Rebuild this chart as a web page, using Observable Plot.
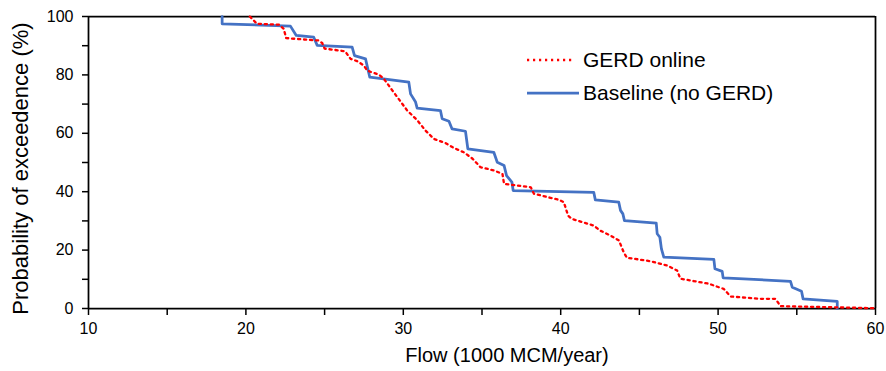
<!DOCTYPE html>
<html><head><meta charset="utf-8">
<script src="https://cdn.jsdelivr.net/npm/d3@7"></script>
<script src="https://cdn.jsdelivr.net/npm/@observablehq/plot@0.6"></script>
<style>
body{margin:0;background:#fff;font-family:"Liberation Sans",Arial,sans-serif;}
#wrap{position:relative;width:886px;height:371px;}
.lg{position:absolute;left:527px;display:flex;align-items:center;height:26px;font-size:21px;color:#000;white-space:nowrap;}
.lg svg{margin-right:4px;}
</style></head><body><div id="wrap"></div>
<script>
const seriesNames = ["GERD online", "Baseline (no GERD)"];
const seriesColors = ["#FF0000", "#4472C4"];
const xTitle = "Flow (1000 MCM/year)";
const yTitle = "Probability of exceedence (%)";
const xTicks = [10, 15, 20, 25, 30, 35, 40, 45, 50, 55, 60];
const yTicks = [0, 10, 20, 30, 40, 50, 60, 70, 80, 90, 100];

const baseFlow = [18.49,18.49,22.83,23.2,24.31,24.53,26.75,26.9,27.6,27.87,30.35,30.46,30.78,30.88,32.36,32.47,32.9,33.1,33.95,34.1,35.75,35.97,36.4,36.56,36.9,36.98,42.1,42.2,43.69,43.8,43.95,44.05,46.07,46.13,46.3,46.4,46.55,49.73,49.8,50.26,50.32,54.6,54.71,55.3,55.4,57.57,57.57];
const baseProb = [100,97.5,96.7,93.5,92.9,90.1,89.5,86.6,85.5,79.2,77.5,73.5,70.7,68.6,67.8,65.0,64.1,61.5,60.7,54.7,53.5,50.1,49.0,45.5,43.3,40.4,39.8,37.2,36.4,33.6,32.4,30.1,29.2,25.6,24.4,20.4,17.6,16.8,13.6,12.7,10.5,9.3,7.3,5.9,3.3,2.4,0];

const gerdFlow = [20.25,20.7,22.1,22.4,22.56,24.0,24.6,24.85,25.0,26.3,26.65,27.07,27.5,27.7,28.0,28.45,28.76,29.3,29.7,30.25,30.9,31.4,31.94,32.7,33.2,33.85,34.4,34.9,35.75,36.3,36.4,38.1,38.3,39.9,40.2,40.47,40.7,42.1,42.5,43.16,43.7,44.0,44.2,45.7,46.77,47.4,47.6,49.4,50.36,50.8,52.7,53.65,53.96,60];
const gerdProb = [100,97.5,97.2,95.8,92.6,92.0,91.8,90.9,89.0,88.1,85.5,84.7,83.2,81.5,80.9,80.1,78.7,74.7,71.8,67.8,64.4,61.0,58.1,56.6,55.0,53.5,51.3,48.4,47.3,46.1,42.7,41.5,39.3,37.2,36.4,31.8,30.7,28.4,26.7,25.0,23.3,19.3,17.4,16.2,14.7,13.0,10.2,8.5,6.7,4.1,3.3,3.3,0.8,0.1];

const base = baseFlow.map((f, i) => ({flow: f, prob: baseProb[i]}));
const gerd = gerdFlow.map((f, i) => ({flow: f, prob: gerdProb[i]}));

const plot = Plot.plot({
  width: 886, height: 371,
  marginLeft: 88, marginRight: 11, marginTop: 16, marginBottom: 63,
  style: {fontFamily: '"Liberation Sans", Arial, sans-serif', fontSize: "16px", color: "#000", background: "#fff"},
  x: {domain: [10, 60]},
  y: {domain: [0, 100]},
  marks: [
    Plot.axisX({ticks: xTicks, tickFormat: d => d % 10 === 0 ? String(d) : "", tickSize: 7, tickPadding: 7, label: null, strokeWidth: 1.5}),
    Plot.axisY({ticks: yTicks, tickFormat: d => d % 20 === 0 ? String(d) : "", tickSize: 6, tickPadding: 9, label: null, strokeWidth: 1.5}),
    Plot.ruleX([10], {stroke: "#000", strokeWidth: 1.75}),
    Plot.ruleY([0], {stroke: "#000", strokeWidth: 1.75}),
    Plot.ruleX([60], {stroke: "#000", strokeWidth: 1.75}),
    Plot.ruleY([100], {stroke: "#000", strokeWidth: 1.75}),
    Plot.line(base, {x: "flow", y: "prob", stroke: seriesColors[1], strokeWidth: 2.75}),
    Plot.line(gerd, {x: "flow", y: "prob", stroke: seriesColors[0], strokeWidth: 2.3, strokeDasharray: "2.2 3.8"}),
    Plot.text([xTitle], {frameAnchor: "bottom", textAnchor: "middle", lineAnchor: "middle", dy: 47, dx: 25, fontSize: 20}),
    Plot.text([yTitle], {frameAnchor: "left", textAnchor: "middle", lineAnchor: "middle", rotate: -90, dx: -68, dy: 6, fontSize: 22})
  ]
});
const wrap = document.getElementById("wrap");
wrap.appendChild(plot);

const legendY = [60, 93];
seriesNames.forEach((name, i) => {
  const row = document.createElement("div");
  row.className = "lg";
  row.style.top = (legendY[i] - 13) + "px";
  const dash = i === 0 ? ' stroke-dasharray="2.2 3.8"' : '';
  const sw = i === 0 ? 2.3 : 2.75;
  row.innerHTML = `<svg width="52" height="10"><line x1="0" y1="5" x2="${i===0?48:52}" y2="5" stroke="${seriesColors[i]}" stroke-width="${sw}"${dash}/></svg><span>${name}</span>`;
  wrap.appendChild(row);
});
</script>
</body></html>
